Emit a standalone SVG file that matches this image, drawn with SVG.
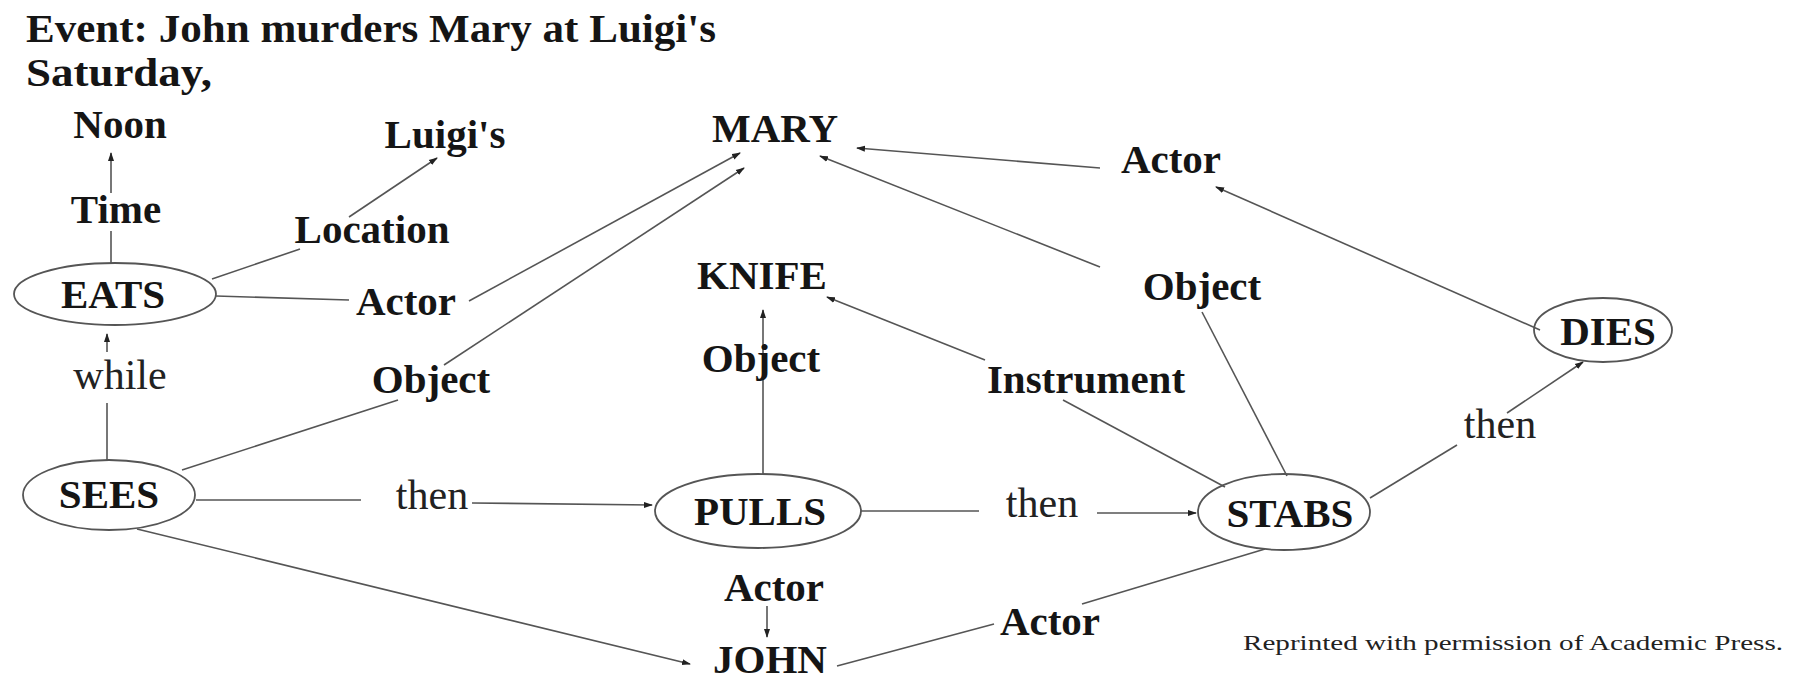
<svg xmlns="http://www.w3.org/2000/svg" width="1795" height="682" viewBox="0 0 1795 682">
<style>
.b{font-family:"Liberation Serif","Times New Roman",serif;font-weight:bold;font-size:41px;fill:#151515;text-anchor:middle}
.n{font-family:"Liberation Serif","Times New Roman",serif;font-size:42px;fill:#222;text-anchor:middle}
.t{font-family:"Liberation Serif","Times New Roman",serif;font-weight:bold;font-size:40px;fill:#151515}
.e{fill:none;stroke:#555;stroke-width:1.8}
.c line{stroke:#555;stroke-width:1.6}
.a{marker-end:url(#ah)}
</style>
<defs>
<marker id="ah" markerWidth="9" markerHeight="7" refX="8" refY="3.5" orient="auto" markerUnits="userSpaceOnUse">
<path d="M0,0.5 L9,3.5 L0,6.5 z" fill="#222"/>
</marker>
</defs>
<rect width="1795" height="682" fill="#fff"/>
<g id="title">
<text class="t" x="26" y="42" textLength="690" lengthAdjust="spacingAndGlyphs">Event: John murders Mary at Luigi's</text>
<text class="t" x="26" y="86" textLength="186" lengthAdjust="spacingAndGlyphs">Saturday,</text>
</g>
<g class="c" id="connectors">
<line class="a" x1="111" y1="193" x2="111" y2="153"/>
<line x1="111" y1="231" x2="111" y2="263"/>
<line x1="212" y1="279" x2="300" y2="249"/>
<line class="a" x1="349" y1="217" x2="437" y2="158"/>
<line x1="216" y1="296" x2="349" y2="300"/>
<line class="a" x1="469" y1="301" x2="740" y2="153"/>
<line class="a" x1="444" y1="365" x2="744" y2="168"/>
<line x1="182" y1="470" x2="398" y2="400"/>
<line class="a" x1="107" y1="352" x2="107" y2="334"/>
<line x1="107" y1="460" x2="107" y2="403"/>
<line x1="196" y1="500" x2="361" y2="500"/>
<line class="a" x1="472" y1="503" x2="652" y2="505"/>
<line x1="861" y1="511" x2="979" y2="511"/>
<line class="a" x1="1097" y1="513" x2="1196" y2="513"/>
<line class="a" x1="763" y1="474" x2="763" y2="310"/>
<line class="a" x1="985" y1="360" x2="827" y2="297"/>
<line x1="1225" y1="487" x2="1063" y2="400"/>
<line x1="1287" y1="476" x2="1202" y2="312"/>
<line class="a" x1="1100" y1="267" x2="820" y2="156"/>
<line class="a" x1="1100" y1="168" x2="857" y2="148"/>
<line class="a" x1="1540" y1="330" x2="1216" y2="187"/>
<line x1="1370" y1="498" x2="1457" y2="445"/>
<line class="a" x1="1507" y1="413" x2="1583" y2="362"/>
<line class="a" x1="137" y1="529" x2="690" y2="664"/>
<line class="a" x1="767" y1="606" x2="767" y2="637"/>
<line x1="837" y1="666" x2="994" y2="624"/>
<line x1="1082" y1="604" x2="1265" y2="549"/>
</g>
<g id="noon"><text class="b" x="120" y="138">Noon</text></g>
<g id="time"><text class="b" x="116" y="223">Time</text></g>
<g id="luigis"><text class="b" x="445" y="148">Luigi's</text></g>
<g id="location"><text class="b" x="372" y="243">Location</text></g>
<g id="eats"><ellipse class="e" cx="115" cy="294" rx="101" ry="31"/><text class="b" x="113" y="308">EATS</text></g>
<g id="actor1"><text class="b" x="406" y="315">Actor</text></g>
<g id="mary"><text class="b" x="775" y="142">MARY</text></g>
<g id="object1"><text class="b" x="431" y="393">Object</text></g>
<g id="while"><text class="n" x="120" y="389">while</text></g>
<g id="sees"><ellipse class="e" cx="109" cy="495" rx="86" ry="35"/><text class="b" x="109" y="508">SEES</text></g>
<g id="then1"><text class="n" x="432" y="509">then</text></g>
<g id="pulls"><ellipse class="e" cx="758" cy="511" rx="103" ry="37"/><text class="b" x="760" y="525">PULLS</text></g>
<g id="then2"><text class="n" x="1042" y="517">then</text></g>
<g id="stabs"><ellipse class="e" cx="1284" cy="512" rx="86" ry="38"/><text class="b" x="1290" y="527">STABS</text></g>
<g id="knife"><text class="b" x="762" y="289">KNIFE</text></g>
<g id="object2"><text class="b" x="761" y="372">Object</text></g>
<g id="instrument"><text class="b" x="1086" y="393">Instrument</text></g>
<g id="object3"><text class="b" x="1202" y="300">Object</text></g>
<g id="actor3"><text class="b" x="1171" y="173">Actor</text></g>
<g id="dies"><ellipse class="e" cx="1603" cy="330" rx="69" ry="32"/><text class="b" x="1608" y="345">DIES</text></g>
<g id="then3"><text class="n" x="1500" y="438">then</text></g>
<g id="actor2"><text class="b" x="774" y="601">Actor</text></g>
<g id="john"><text class="b" x="770" y="673">JOHN</text></g>
<g id="actor4"><text class="b" x="1050" y="635">Actor</text></g>
<g id="credit"><text x="1243" y="650" textLength="540" lengthAdjust="spacingAndGlyphs" style="font-family:'Liberation Serif','Times New Roman',serif;font-size:20px;fill:#222">Reprinted with permission of Academic Press.</text></g>
</svg>
